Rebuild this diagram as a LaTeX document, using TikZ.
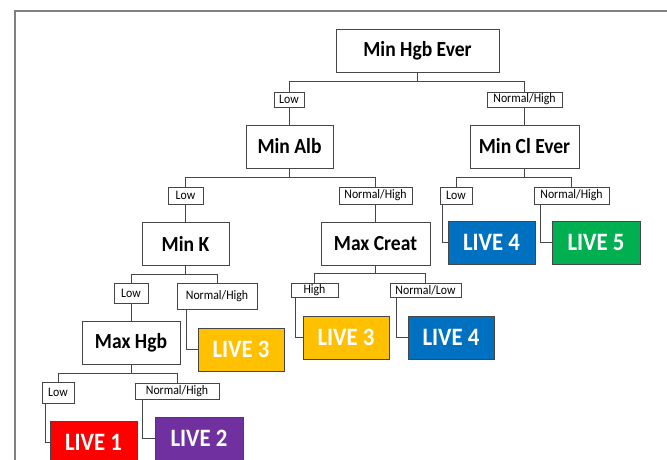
\documentclass[tikz,border=0pt]{standalone}
\usepackage{fontspec}
\setmainfont{Carlito}[FakeStretch=0.91]
\definecolor{cred}{RGB}{255,0,0}
\definecolor{cpurple}{RGB}{112,48,160}
\definecolor{cyellow}{RGB}{255,192,0}
\definecolor{cblue}{RGB}{0,112,192}
\definecolor{cgreen}{RGB}{0,176,80}
\definecolor{frame}{RGB}{128,128,128}
\definecolor{edge}{RGB}{70,70,70}
\tikzset{
  box/.style={draw=edge, line width=0.9pt, fill=white, inner sep=0pt, minimum height=43pt, font=\bfseries\fontsize{21.5}{24}\selectfont},
  lbl/.style={draw=edge, line width=0.7pt, fill=white, inner sep=0pt, font=\fontsize{13}{15}\selectfont},
  live/.style={draw=edge, line width=0.9pt, inner sep=0pt, minimum height=43pt, text=white, font=\bfseries\fontsize{25}{28}\selectfont},
  conn/.style={draw=edge, line width=0.8pt},
}
\begin{document}
\begin{tikzpicture}[x=1pt,y=-1pt]
\useasboundingbox (0,0) rectangle (667,459);
\draw[frame, line width=1.5pt] (15,470) -- (15,11) -- (680,11);

% decision nodes
\node[box, minimum width=163pt] (hgb) at (417.5,50.5) {Min Hgb Ever};
\node[box, minimum width=87pt] (alb) at (289.5,146.5) {Min Alb};
\node[box, minimum width=109pt] (cl) at (524.5,146.5) {Min Cl Ever};
\node[box, minimum width=87pt] (mink) at (185.5,243.5) {Min K};
\node[box, minimum width=109pt] (creat) at (375.5,243.5) {Max Creat};
\node[box, minimum width=98pt] (maxhgb) at (131,342.5) {Max Hgb};

% branch labels
\node[lbl, minimum width=30pt, minimum height=15pt] (l1) at (289,99.5) {Low};
\node[lbl, minimum width=75pt, minimum height=15pt] (n1) at (524.5,99.5) {Normal/High};
\node[lbl, minimum width=35pt, minimum height=17pt] (l2) at (185.5,195.5) {Low};
\node[lbl, minimum width=73pt, minimum height=17pt] (n2) at (375.5,195.5) {Normal/High};
\node[lbl, minimum width=32pt, minimum height=17pt] (l3) at (456,195.5) {Low};
\node[lbl, minimum width=75pt, minimum height=17pt] (n3) at (571.5,195.5) {Normal/High};
\node[lbl, minimum width=34pt, minimum height=20pt] (l4) at (131,293) {Low};
\node[lbl, minimum width=80pt, minimum height=26pt] (n4) at (217,296) {Normal/High};
\node[lbl, minimum width=47pt, minimum height=14pt] (hi) at (314.5,290) {High};
\node[lbl, minimum width=71pt, minimum height=14pt] (nl) at (425.5,290) {Normal/Low};
\node[lbl, minimum width=32pt, minimum height=21pt] (l5) at (58,392.5) {Low};
\node[lbl, minimum width=84pt, minimum height=16pt] (n5) at (177,391) {Normal/High};

% outcome boxes
\node[live, fill=cblue, minimum width=87pt] (live4a) at (491.5,242.5) {LIVE 4};
\node[live, fill=cgreen, minimum width=88pt] (live5) at (596,242.5) {LIVE 5};
\node[live, fill=cyellow, minimum width=86pt] (live3a) at (241,349.5) {LIVE 3};
\node[live, fill=cyellow, minimum width=86pt] (live3b) at (346,337.5) {LIVE 3};
\node[live, fill=cblue, minimum width=86pt] (live4b) at (451,337.5) {LIVE 4};
\node[live, fill=cred, minimum width=87pt] (live1) at (93.5,442.5) {LIVE 1};
\node[live, fill=cpurple, minimum width=88pt] (live2) at (199,438.5) {LIVE 2};

% connectors
\draw[conn] (hgb.south) -- ++(0,9) -| (l1.north);
\draw[conn] (hgb.south) -- ++(0,9) -| (n1.north);
\draw[conn] (l1.south) -- (l1.south |- alb.north);
\draw[conn] (n1.south) -- (n1.south |- cl.north);
\draw[conn] (alb.south) -- ++(0,9) -| (l2.north);
\draw[conn] (alb.south) -- ++(0,9) -| (n2.north);
\draw[conn] (cl.south) -- ++(0,9) -| (l3.north);
\draw[conn] (cl.south) -- ++(0,9) -| (n3.north);
\draw[conn] (l2.south) -- (l2.south |- mink.north);
\draw[conn] (n2.south) -- (n2.south |- creat.north);
\draw[conn] ([xshift=3pt]l3.south west) |- (live4a.west);
\draw[conn] ([xshift=7pt]n3.south west) |- (live5.west);
\draw[conn] (mink.south) -- ++(0,9) -| (l4.north);
\draw[conn] (mink.south) -- ++(0,9) -| (n4.north);
\draw[conn] (creat.south) -- ++(0,8) -| (hi.north);
\draw[conn] (creat.south) -- ++(0,8) -| (nl.north);
\draw[conn] (l4.south) -- (l4.south |- maxhgb.north);
\draw[conn] ([xshift=10pt]n4.south west) |- (live3a.west);
\draw[conn] ([xshift=5pt]hi.south west) |- (live3b.west);
\draw[conn] ([xshift=7pt]nl.south west) |- (live4b.west);
\draw[conn] (maxhgb.south) -- ++(0,9) -| (l5.north);
\draw[conn] (maxhgb.south) -- ++(0,9) -| (n5.north);
\draw[conn] ([xshift=4pt]l5.south west) |- (live1.west);
\draw[conn] ([xshift=8pt]n5.south west) |- (live2.west);
\end{tikzpicture}
\end{document}
